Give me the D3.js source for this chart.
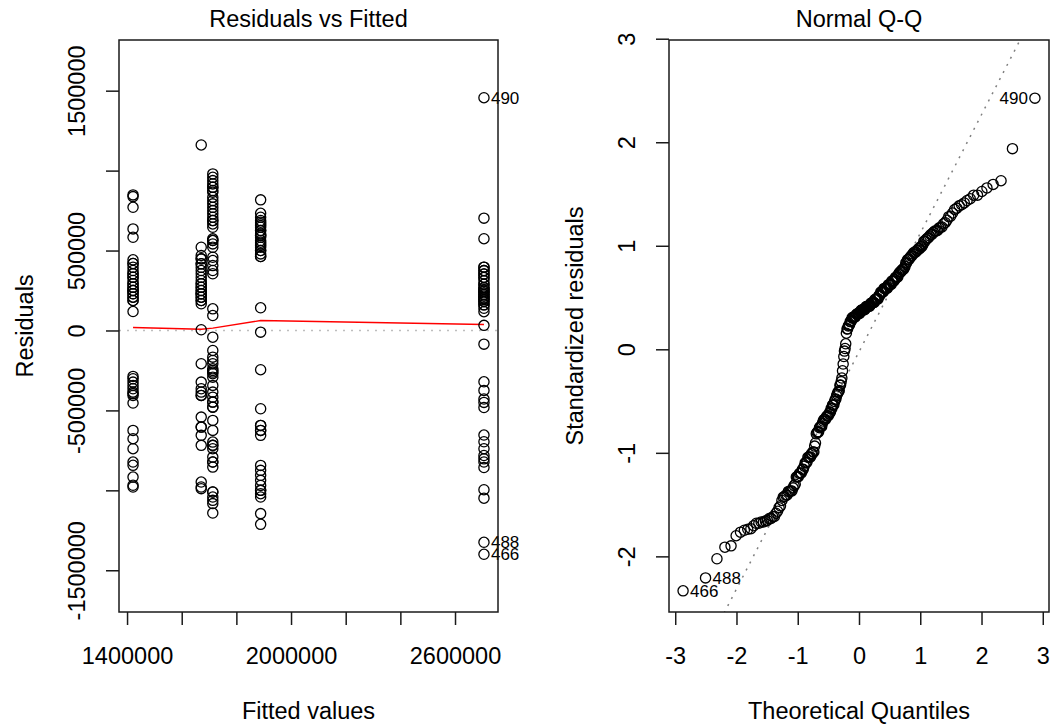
<!DOCTYPE html>
<html>
<head>
<meta charset="utf-8">
<script src="https://cdn.jsdelivr.net/npm/d3@7"></script>
<style>
  html, body { margin: 0; padding: 0; background: #fff; }
  svg { display: block; font-family: "Liberation Sans", Arial, sans-serif; }
</style>
</head>
<body>
<svg id="chart" width="1054" height="724"></svg>
<script>
// Fitted values of the five model levels
const fittedLevels = [1421900, 1671400, 1713700, 1888800, 2705900];

// Residuals of the observations at each fitted level
const groupA = [848000, 837500, 770500, 635500, 583000, 442000, 419000, 395500, 375000, 354500,
  333000, 312500, 292000, 270500, 250000, 229500, 208000, 187500, 118500,
  270500, 250000, 229500, 208000, 292000, 187500, 250000, 354500, 333000, 419000,
  -287500, -302000, -323000, -343500, -364500, -385500, -406000, -454000, -625000, -677000,
  -739500, -823000, -843500, -917000, -968500, -979000, -395000];
const groupB = [1160500, 520500, 469000, 448000, 417000, 395500, 375000, 354500, 312500, 292000,
  270500, 250000, 229500, 208000, 187500, 167000, 4500,
  270500, 250000, 229500, 208000, 187500, 292000, 229500, 333000, 448000, 417000,
  -208000, -323000, -364500, -385500, -406000, -542000, -604500, -656000, -718500, -948000,
  -979000, -989500, -604500, -406000];
const groupC = [979500, 958000, 937500, 917000, 895500, 864500, 792000, 770500, 750000, 729500,
  687500, 645500, 573000, 562500, 520500, 458000, 437500, 406000, 375000, 354500, 135500, 93500,
  541500, 562500, 708500, 687500, 666500, 812500, 833500, 875000, 895500,
  -42000, -125000, -167000, -187500, -208000, -239500, -250000, -260500, -270500, -292000,
  -343500, -385500, -417000, -448000, -479500, -562500, -625000, -698000, -718500, -739500,
  -792000, -823000, -854500, -1010500, -1042000, -1062500, -1083000, -1142000,
  -1010500, -823000, -718500, -448000, -479500];
const groupD = [817000, 733000, 687500, 656000, 625000, 594000, 562500, 531500, 500000, 462500,
  142000, -10500, -245500, -489500, -594000, -625000, -656000, -844000, -875000, -906000,
  -937500, -969000, -1000000, -1042000, -1145500, -1212500,
  462500, 479000, 500000, 521000, 541500, 552000, 583000, 604000, 625000, 646000, 666500,
  677000, 708000, 594000, -1000000, -1021000, -625000, -594000];
const groupE = [1456000, 702500, 574000, 396000, 374500, 353000, 332000, 310500, 289000, 267500,
  246000, 224500, 203000, 182000, 160500, 139000, 117500, 32000, -85500, -321000, -375000,
  -429000, -482000, -654000, -696000, -739500, -782000, -803000, -857000, -996000, -1049000,
  -1325000, -1400000,
  289000, 267500, 246000, 224500, 203000, 182000, 160500, 256500, 235500, 214000, 193000,
  374500, 353000, 332000, 396000, -823000, -450000];

// Smoothed residual trend at each fitted level
const smoothFit = [19000, 8000, 15000, 62000, 37500];

// Row names of the flagged observations
const idResiduals = [1456000, -1400000, -1325000];
const idNames = ["490", "466", "488"];

// Axis ticks and their printed labels
const fitTicks = [1400000, 1600000, 1800000, 2000000, 2200000, 2400000, 2600000];
const fitTickLabels = ["1400000", "", "", "2000000", "", "", "2600000"];
const residTicks = [-1500000, -1000000, -500000, 0, 500000, 1000000, 1500000];
const residTickLabels = ["-1500000", "", "-500000", "0", "500000", "", "1500000"];
const theoTicks = [-3, -2, -1, 0, 1, 2, 3];
const stdTicks = [-2, -1, 0, 1, 2, 3];

const titles = ["Residuals vs Fitted", "Normal Q-Q"];
const xTitles = ["Fitted values", "Theoretical Quantiles"];
const yTitles = ["Residuals", "Standardized residuals"];

// ---------------------------------------------------------------
const svg = d3.select("#chart");
svg.append("rect").attr("width", 1054).attr("height", 724).attr("fill", "#fff");

const FONT = 23.5, ID_FONT = 17, TICK = 13;
const panels = [
  { x0: 119, x1: 498, y0: 40, y1: 612 },
  { x0: 669, x1: 1049, y0: 40, y1: 612 }
];

const groups = [groupA, groupB, groupC, groupD, groupE];
const obs = groups.flatMap((g, gi) => g.map(r => ({ fit: fittedLevels[gi], r, h: 1 / g.length })));
const n = obs.length;
const sigma = Math.sqrt(d3.sum(obs, d => d.r * d.r) / (n - fittedLevels.length));
obs.forEach(d => { d.std = d.r / (sigma * Math.sqrt(1 - d.h)); });
idResiduals.forEach((v, i) => {
  const o = obs.find(d => d.r === v);
  if (o) o.name = idNames[i];
});

// inverse of the standard normal CDF
function qnorm(p) {
  const a = [-3.969683028665376e+01, 2.209460984245205e+02, -2.759285104469687e+02, 1.383577518672690e+02, -3.066479806614716e+01, 2.506628277459239e+00];
  const b = [-5.447609879822406e+01, 1.615858368580409e+02, -1.556989798598866e+02, 6.680131188771972e+01, -1.328068155288572e+01];
  const c = [-7.784894002430293e-03, -3.223964580411365e-01, -2.400758277161838e+00, -2.549732539343734e+00, 4.374664141464968e+00, 2.938163982698783e+00];
  const d = [7.784695709041462e-03, 3.224671290700398e-01, 2.445134137142996e+00, 3.754408661907416e+00];
  const pl = 0.02425;
  if (p < pl) {
    const q = Math.sqrt(-2 * Math.log(p));
    return (((((c[0] * q + c[1]) * q + c[2]) * q + c[3]) * q + c[4]) * q + c[5]) / ((((d[0] * q + d[1]) * q + d[2]) * q + d[3]) * q + 1);
  }
  if (p <= 1 - pl) {
    const q = p - 0.5, r = q * q;
    return (((((a[0] * r + a[1]) * r + a[2]) * r + a[3]) * r + a[4]) * r + a[5]) * q / (((((b[0] * r + b[1]) * r + b[2]) * r + b[3]) * r + b[4]) * r + 1);
  }
  const q = Math.sqrt(-2 * Math.log(1 - p));
  return -(((((c[0] * q + c[1]) * q + c[2]) * q + c[3]) * q + c[4]) * q + c[5]) / ((((d[0] * q + d[1]) * q + d[2]) * q + d[3]) * q + 1);
}

const widen = ([lo, hi], f) => [lo - f * (hi - lo), hi + f * (hi - lo)];

function frame(p, i) {
  svg.append("text").attr("x", (p.x0 + p.x1) / 2).attr("y", 27)
    .attr("text-anchor", "middle").attr("font-size", FONT).attr("fill", "#000").text(titles[i]);
  svg.append("text").attr("x", (p.x0 + p.x1) / 2).attr("y", 719)
    .attr("text-anchor", "middle").attr("font-size", FONT).attr("fill", "#000").text(xTitles[i]);
  svg.append("text")
    .attr("transform", `translate(${p.x0 - 86},${(p.y0 + p.y1) / 2}) rotate(-90)`)
    .attr("text-anchor", "middle").attr("font-size", FONT).attr("fill", "#000").text(yTitles[i]);
  svg.append("clipPath").attr("id", "clip" + i)
    .append("rect").attr("x", p.x0).attr("y", p.y0).attr("width", p.x1 - p.x0).attr("height", p.y1 - p.y0);
}

function axes(p, x, y, xt, xl, yt, yl) {
  const gx = svg.append("g").attr("transform", `translate(0,${p.y1})`)
    .call(d3.axisBottom(x).tickValues(xt).tickSize(TICK).tickFormat((d, i) => xl[i]));
  const gy = svg.append("g").attr("transform", `translate(${p.x0},0)`)
    .call(d3.axisLeft(y).tickValues(yt).tickSize(TICK).tickFormat((d, i) => yl[i]));
  [gx, gy].forEach(g => {
    g.attr("font-size", null).attr("font-family", null);
    g.select(".domain").remove();
    g.selectAll(".tick line").attr("stroke", "#1a1a1a").attr("stroke-width", 1.5);
    g.selectAll(".tick text").attr("font-size", FONT).attr("fill", "#000");
  });
  gx.selectAll(".tick text").attr("y", 51.5).attr("dy", null);
  gy.selectAll(".tick text").attr("transform", "rotate(-90)")
    .attr("x", 0).attr("y", -34).attr("dy", null).attr("text-anchor", "middle");
  svg.append("rect").attr("x", p.x0).attr("y", p.y0)
    .attr("width", p.x1 - p.x0).attr("height", p.y1 - p.y0)
    .attr("fill", "none").attr("stroke", "#1a1a1a").attr("stroke-width", 1.5);
}

function points(data, x, y, xv, yv) {
  svg.append("g").selectAll("circle").data(data).join("circle")
    .attr("cx", d => x(xv(d))).attr("cy", d => y(yv(d))).attr("r", 5.1)
    .attr("fill", "none").attr("stroke", "#000").attr("stroke-width", 1.3);
  const flagged = data.filter(d => d.name);
  const mid = d3.mean(d3.extent(flagged, xv));
  svg.append("g").selectAll("text").data(flagged).join("text")
    .attr("x", d => x(xv(d)) + (xv(d) > mid ? -7 : 7))
    .attr("y", d => y(yv(d)) + 6)
    .attr("text-anchor", d => (xv(d) > mid ? "end" : "start"))
    .attr("font-size", ID_FONT).attr("fill", "#000")
    .text(d => d.name);
}

// ---- Residuals vs Fitted ----
{
  const p = panels[0];
  frame(p, 0);
  const x = d3.scaleLinear().domain(widen(d3.extent(obs, d => d.fit), 0.04)).range([p.x0, p.x1]);
  const y = d3.scaleLinear().domain(widen(widen(d3.extent(obs, d => d.r), 0.08), 0.04)).range([p.y1, p.y0]);
  const clip = svg.append("g").attr("clip-path", "url(#clip0)");
  clip.append("line").attr("x1", p.x0).attr("x2", p.x1).attr("y1", y(0)).attr("y2", y(0))
    .attr("stroke", "#bebebe").attr("stroke-width", 1.5).attr("stroke-dasharray", "2,6");
  clip.append("path")
    .attr("d", d3.line().x((d, i) => x(fittedLevels[i])).y(d => y(d))(smoothFit))
    .attr("fill", "none").attr("stroke", "#ff0000").attr("stroke-width", 1.4);
  points(obs, x, y, d => d.fit, d => d.r);
  axes(p, x, y, fitTicks, fitTickLabels, residTicks, residTickLabels);
}

// ---- Normal Q-Q ----
{
  const p = panels[1];
  frame(p, 1);
  const sorted = obs.slice().sort((a, b) => a.std - b.std);
  sorted.forEach((d, i) => { d.theo = qnorm((i + 0.5) / n); });
  const stdExt = d3.extent(sorted, d => d.std);
  stdExt[1] += 0.075 * (stdExt[1] - stdExt[0]);
  const x = d3.scaleLinear().domain(widen(d3.extent(sorted, d => d.theo), 0.04)).range([p.x0, p.x1]);
  const y = d3.scaleLinear().domain(widen(stdExt, 0.04)).range([p.y1, p.y0]);
  const stds = sorted.map(d => d.std);
  const q1 = d3.quantile(stds, 0.25), q3 = d3.quantile(stds, 0.75);
  const z1 = qnorm(0.25), z3 = qnorm(0.75);
  const slope = (q3 - q1) / (z3 - z1), icpt = q1 - slope * z1;
  const [xa, xb] = x.domain();
  svg.append("g").attr("clip-path", "url(#clip1)").append("line")
    .attr("x1", x(xa)).attr("y1", y(icpt + slope * xa))
    .attr("x2", x(xb)).attr("y2", y(icpt + slope * xb))
    .attr("stroke", "#7f7f7f").attr("stroke-width", 1.5).attr("stroke-dasharray", "2,6");
  points(sorted, x, y, d => d.theo, d => d.std);
  axes(p, x, y, theoTicks, theoTicks.map(String), stdTicks, stdTicks.map(String));
}
</script>
</body>
</html>
